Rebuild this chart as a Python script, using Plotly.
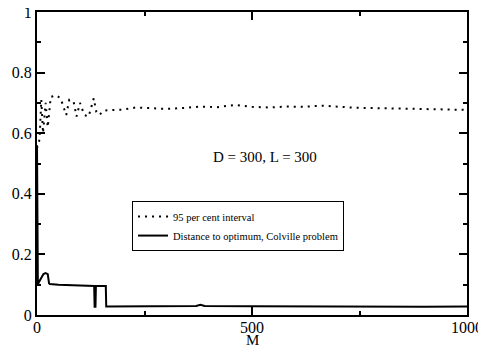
import plotly.graph_objects as go

# Dotted series: 95 per cent interval
interval_x = [0, 6, 10, 14, 20, 25, 32, 45, 55, 68, 75, 85, 92, 100, 110, 120, 132, 138, 145, 155,
              170, 200, 230, 260, 300, 340, 380, 420, 460, 500, 540, 580, 620, 660, 700, 740,
              780, 820, 860, 900, 940, 980, 1000]
interval_y = [0.55, 0.58, 0.71, 0.60, 0.70, 0.62, 0.72, 0.725, 0.715, 0.66, 0.71, 0.705, 0.655, 0.70,
              0.66, 0.655, 0.715, 0.67, 0.66, 0.675,
              0.676, 0.678, 0.685, 0.683, 0.680, 0.683, 0.688, 0.686, 0.693, 0.687, 0.685, 0.688,
              0.687, 0.691, 0.687, 0.684, 0.683, 0.682, 0.681, 0.680, 0.678, 0.677, 0.677]

# Solid series: distance to optimum
dist_x = [0, 2, 5, 10, 15, 20, 25, 28, 30, 50, 80, 100, 120, 133, 134, 136, 137, 160, 161,
          200, 300, 370, 380, 390, 500, 600, 700, 800, 900, 1000]
dist_y = [0.56, 0.10, 0.11, 0.125, 0.135, 0.138, 0.135, 0.105, 0.102, 0.100, 0.098, 0.097, 0.096,
          0.096, 0.027, 0.027, 0.096, 0.096, 0.028,
          0.028, 0.028, 0.030, 0.034, 0.030, 0.029, 0.028, 0.029, 0.028, 0.027, 0.028]

x_ticks = [0, 500, 1000]
y_ticks = [0, 0.2, 0.4, 0.6, 0.8, 1]
y_tick_labels = ["0", "0.2", "0.4", "0.6", "0.8", "1"]

font_family = "Liberation Serif"

fig = go.Figure()
fig.add_trace(go.Scatter(x=interval_x, y=interval_y, mode="lines", name="95 per cent interval",
                         line=dict(color="black", width=2, dash="2px,5px")))
fig.add_trace(go.Scatter(x=dist_x, y=dist_y, mode="lines",
                         name="Distance to optimum, Colville problem",
                         line=dict(color="black", width=2)))

fig.add_annotation(x=530, y=0.52, text="D = 300, L = 300", showarrow=False,
                   font=dict(size=15, color="black", family=font_family))
# x-axis title placed close under the tick labels
fig.add_annotation(x=0.5, y=-0.081, xref="paper", yref="paper", text="M", showarrow=False,
                   yanchor="middle", font=dict(size=15, color="black", family=font_family))

axis_common = dict(showline=True, linecolor="black", linewidth=2, mirror="ticks",
                   ticks="inside", ticklen=8, tickwidth=2, tickcolor="black",
                   showgrid=False, zeroline=False, automargin=False,
                   ticklabeloverflow="allow",
                   tickfont=dict(size=16, color="black", family=font_family))

fig.update_xaxes(range=[0, 1000], tickvals=x_ticks,
                 minor=dict(ticks="inside", ticklen=4, tickwidth=1.5, tickcolor="black", dtick=250,
                            tick0=0),
                 ticklabelstandoff=-3,
                 **axis_common)
fig.update_yaxes(range=[0, 1], tickvals=y_ticks, ticktext=y_tick_labels,
                 minor=dict(ticks="inside", ticklen=4, tickwidth=1.5, tickcolor="black", dtick=0.1,
                            tick0=0),
                 ticklabelstandoff=0,
                 **axis_common)

fig.update_layout(
    width=478, height=340,
    margin=dict(l=29, r=19, t=4, b=33, autoexpand=False),
    paper_bgcolor="white", plot_bgcolor="white",
    showlegend=True,
    legend=dict(x=0.221, y=0.376, xanchor="left", yanchor="top",
                bordercolor="black", borderwidth=1, bgcolor="white",
                font=dict(size=10.5, color="black", family=font_family),
                tracegroupgap=0, itemwidth=30),
    font=dict(family=font_family, color="black"),
)

fig.write_html("out.html")
